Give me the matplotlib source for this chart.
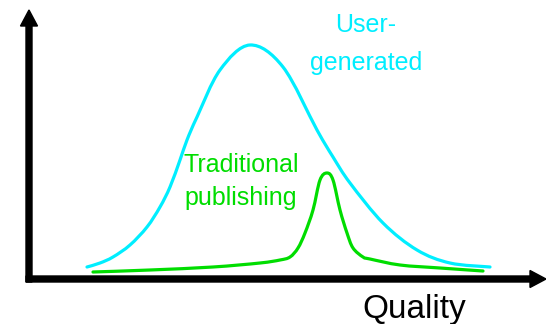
import numpy as np
import matplotlib
matplotlib.use("Agg")
import matplotlib.pyplot as plt
from matplotlib.path import Path
from matplotlib.patches import PathPatch

# curve samples (pixel-like units, y grows downward)
ugc_x = [87, 100, 113, 130, 147, 160, 170, 180, 187, 197, 220, 250, 283, 317, 333, 350, 383, 417, 450, 490]
ugc_y = [267, 263, 257, 245, 227, 207, 187, 160, 140, 117, 70, 45, 67, 130, 157, 183, 223, 250, 263, 267]

trad_x = [93, 150, 213, 260, 280, 290, 298, 305, 313, 320, 327, 333, 340, 347, 353, 363, 370, 400, 440, 483]
trad_y = [272, 270, 267, 263, 260, 257, 248, 233, 210, 180, 173, 180, 210, 233, 248, 257, 259, 265, 268, 271]

cyan = "#00eeff"
green = "#00dd00"
font = ["Liberation Sans", "DejaVu Sans"]


def smooth_path(xs, ys):
    # catmull-rom through the points, drawn as bezier segments
    p = np.column_stack([xs, ys]).astype(float)
    p = np.vstack([p[0], p, p[-1]])
    verts = [p[1]]
    codes = [Path.MOVETO]
    for i in range(1, len(p) - 2):
        c1 = p[i] + (p[i + 1] - p[i - 1]) / 6
        c2 = p[i + 1] - (p[i + 2] - p[i]) / 6
        verts += [c1, c2, p[i + 1]]
        codes += [Path.CURVE4] * 3
    return Path(verts, codes)


fig = plt.figure(figsize=(5.46, 3.24), dpi=100)
ax = fig.add_axes([0, 0, 1, 1])
ax.set_xlim(0, 546)
ax.set_ylim(324, 0)
ax.axis("off")

# axes arrows
ax.arrow(29, 282, 0, -272, width=6, head_width=17, head_length=16,
         length_includes_head=True, color="black")
ax.arrow(26, 279, 520, 0, width=6, head_width=17, head_length=16,
         length_includes_head=True, color="black")

ax.add_patch(PathPatch(smooth_path(ugc_x, ugc_y), fill=False, edgecolor=cyan,
                       lw=2.3, capstyle="round"))
ax.add_patch(PathPatch(smooth_path(trad_x, trad_y), fill=False, edgecolor=green,
                       lw=2.3, capstyle="round"))

ax.text(366, 32, "User-", color=cyan, fontsize=18, family=font, ha="center", va="baseline")
ax.text(366, 70, "generated", color=cyan, fontsize=18, family=font, ha="center", va="baseline")
ax.text(241, 172, "Traditional", color=green, fontsize=18, family=font, ha="center", va="baseline")
ax.text(241, 205, "publishing", color=green, fontsize=18, family=font, ha="center", va="baseline")
ax.text(414, 318, "Quality", color="black", fontsize=24, family=font, ha="center", va="baseline")

fig.savefig("out.png", dpi=100)
